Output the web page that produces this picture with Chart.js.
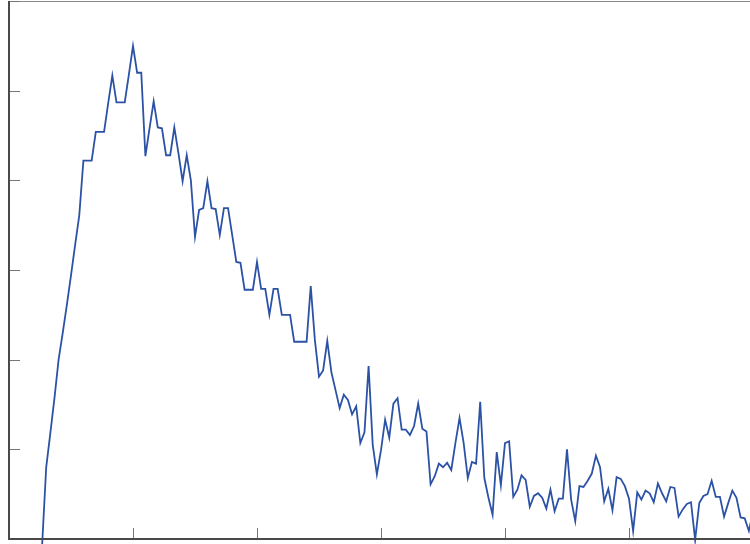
<!DOCTYPE html>
<html>
<head>
<meta charset="utf-8">
<script src="https://cdn.jsdelivr.net/npm/chart.js@4/dist/chart.umd.min.js"></script>
<style>
  html, body { margin: 0; padding: 0; background: #fff; overflow: hidden; }
  #wrap { position: relative; width: 760px; height: 544px; }
</style>
</head>
<body>
<div id="wrap"><canvas id="myChart"></canvas></div>
<script>
// sample grid: first sample index and spacing on the x axis
var firstIndex = 8;
var xStep = 1 / 30;

// signal values (one per sample)
var values = [
  -0.08, 0.80, 1.18, 1.57, 2.00, 2.30, 2.61, 2.94, 3.28, 3.61,
  4.22, 4.22, 4.22, 4.54, 4.54, 4.54, 4.86, 5.17, 4.87, 4.87,
  4.87, 5.18, 5.50, 5.20, 5.20, 4.27, 4.58, 4.88, 4.59, 4.58,
  4.28, 4.28, 4.59, 4.30, 3.99, 4.28, 4.00, 3.37, 3.67, 3.69,
  3.99, 3.69, 3.68, 3.39, 3.69, 3.69, 3.39, 3.09, 3.08, 2.78,
  2.78, 2.78, 3.09, 2.79, 2.79, 2.50, 2.79, 2.79, 2.50, 2.50,
  2.50, 2.20, 2.20, 2.20, 2.20, 2.82, 2.22, 1.81, 1.88, 2.21,
  1.86, 1.66, 1.46, 1.61, 1.55, 1.39, 1.48, 1.07, 1.19, 1.93,
  1.05, 0.72, 0.99, 1.33, 1.13, 1.51, 1.57, 1.22, 1.22, 1.16,
  1.26, 1.51, 1.23, 1.20, 0.61, 0.70, 0.84, 0.80, 0.85, 0.77,
  1.07, 1.35, 1.07, 0.68, 0.86, 0.84, 1.53, 0.68, 0.46, 0.27,
  0.97, 0.60, 1.07, 1.09, 0.47, 0.55, 0.71, 0.66, 0.36, 0.48,
  0.51, 0.46, 0.34, 0.55, 0.31, 0.45, 0.45, 1.00, 0.44, 0.20,
  0.59, 0.58, 0.65, 0.73, 0.93, 0.80, 0.42, 0.56, 0.32, 0.69,
  0.67, 0.59, 0.45, 0.09, 0.52, 0.44, 0.54, 0.51, 0.41, 0.62,
  0.51, 0.42, 0.58, 0.57, 0.25, 0.33, 0.39, 0.41, -0.01, 0.40,
  0.48, 0.50, 0.65, 0.47, 0.47, 0.25, 0.40, 0.54, 0.46, 0.24,
  0.23, 0.09, 0.30
];

// axis ticks (no labels shown in the crop)
var xTicks = [0, 1, 2, 3, 4, 5, 6];
var yTicks = [0, 1, 2, 3, 4, 5, 6];

var points = values.map(function (v, k) {
    return { x: (firstIndex + k) * xStep, y: v };
});

// axes box with inward tick marks
var axesBox = {
    id: 'axesBox',
    afterDraw: function (chart) {
        var ctx = chart.ctx;
        var a = chart.chartArea;
        var xs = chart.scales.x, ys = chart.scales.y;
        ctx.save();
        ctx.lineWidth = 1;
        ctx.strokeStyle = '#8a8a8a';
        ctx.beginPath();
        ctx.moveTo(a.left, a.top + 0.5);
        ctx.lineTo(a.right, a.top + 0.5);
        ctx.stroke();
        ctx.strokeStyle = '#777';
        ctx.beginPath();
        xTicks.forEach(function (t) {
            var px = Math.round(xs.getPixelForValue(t)) + 0.5;
            ctx.moveTo(px, a.bottom);
            ctx.lineTo(px, a.bottom - 11);
        });
        yTicks.forEach(function (t) {
            var py = Math.round(ys.getPixelForValue(t)) + 0.5;
            ctx.moveTo(a.left, py);
            ctx.lineTo(a.left + 11, py);
        });
        ctx.stroke();
        ctx.lineWidth = 2;
        ctx.strokeStyle = '#4a4a4a';
        ctx.beginPath();
        ctx.moveTo(a.left, a.top);
        ctx.lineTo(a.left, a.bottom);
        ctx.lineTo(a.right, a.bottom);
        ctx.stroke();
        ctx.restore();
    }
};

var ctx = document.getElementById('myChart').getContext('2d');
var chart = new Chart(ctx, {
    type: 'line',
    data: {
        datasets: [{
            data: points,
            borderColor: '#2c52a6',
            borderWidth: 1.8,
            pointRadius: 0,
            tension: 0,
            fill: false,
            clip: false
        }]
    },
    options: {
        responsive: true,
        maintainAspectRatio: false,
        animation: false,
        layout: { padding: { left: 9, top: 1, right: 7, bottom: 5 } },
        plugins: { legend: { display: false }, tooltip: { enabled: false } },
        scales: {
            x: { type: 'linear', min: 0, max: 6, display: false },
            y: { type: 'linear', min: 0, max: 6, display: false }
        }
    },
    plugins: [axesBox]
});
</script>
</body>
</html>
